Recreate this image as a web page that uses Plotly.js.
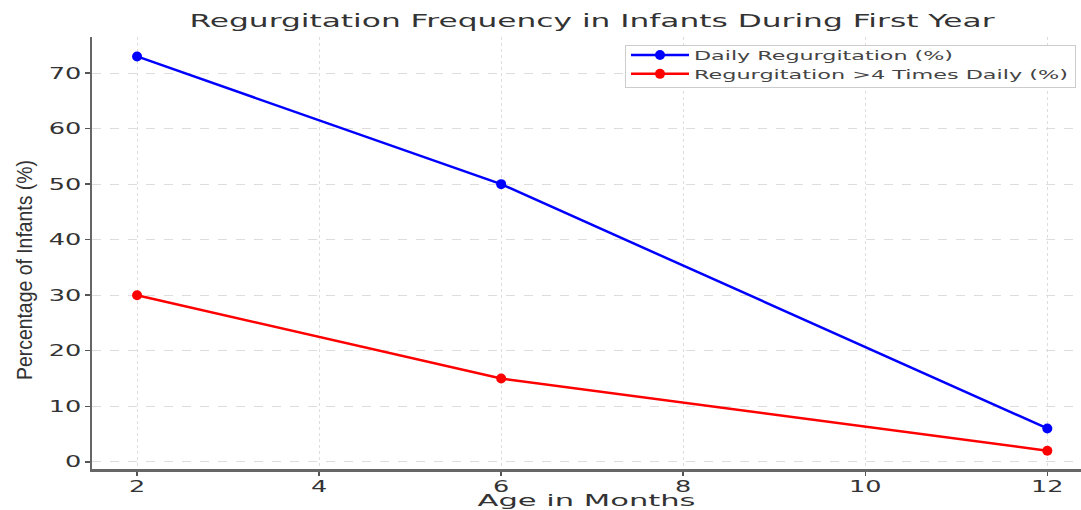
<!DOCTYPE html>
<html>
<head>
<meta charset="utf-8">
<script src="https://cdn.plot.ly/plotly-3.0.1.min.js"></script>
<style>
html,body{margin:0;padding:0;background:#fff;}
#chart{width:1081px;height:510px;}
</style>
</head>
<body>
<div id="chart"></div>
<script>
const ageMonths = [2, 6, 12];
const dailyRegurgitation = [73, 50, 6];
const regurgitationOver4 = [30, 15, 2];
const seriesNames = ["Daily Regurgitation (%)", "Regurgitation >4 Times Daily (%)"];
const xTicks = [2, 4, 6, 8, 10, 12];
const yTicks = [0, 10, 20, 30, 40, 50, 60, 70];

const font = "DejaVu Sans, sans-serif";
const traces = [
  {x: ageMonths, y: dailyRegurgitation, name: seriesNames[0], type: "scatter", mode: "lines+markers",
   line: {color: "#0000ff", width: 2.5}, marker: {color: "#0000ff", size: 10}},
  {x: ageMonths, y: regurgitationOver4, name: seriesNames[1], type: "scatter", mode: "lines+markers",
   line: {color: "#ff0000", width: 2.5}, marker: {color: "#ff0000", size: 10}}
];
const layout = {
  width: 1081, height: 510,
  margin: {l: 92, r: 0, t: 37, b: 41},
  paper_bgcolor: "#fff", plot_bgcolor: "#fff",
  font: {family: font, color: "#333", size: 16},
  title: {text: "Regurgitation Frequency in Infants During First Year", x: 592/1081, xref: "container", xanchor: "center",
          y: 1 - 21/510, yref: "container", yanchor: "middle", font: {family: font, size: 18, color: "#333"}},
  showlegend: true,
  legend: {x: (625-92)/989, y: (469-45)/432, xanchor: "left", yanchor: "top", bgcolor: "#fff", bordercolor: "#ccc", borderwidth: 1,
           font: {family: font, size: 13, color: "#444"}, tracegroupgap: 0, itemwidth: 58},
  xaxis: {range: [1.505, 12.37], tickvals: xTicks, ticks: "outside", ticklen: 4, tickwidth: 1.5, tickcolor: "#555",
          showline: true, linecolor: "#666", linewidth: 2.5, zeroline: false,
          showgrid: true, gridcolor: "#ddd", griddash: "dot", gridwidth: 1,
          tickfont: {size: 15, color: "#333"},
          title: {text: "Age in Months", font: {size: 16, color: "#333"}, standoff: 12}},
  yaxis: {range: [-1.3, 76.5], tickvals: yTicks, ticks: "outside", ticklen: 5, tickwidth: 1.5, tickcolor: "#555",
          showline: true, linecolor: "#666", linewidth: 2.5, zeroline: false,
          showgrid: true, gridcolor: "#ddd", griddash: "dash", gridwidth: 1,
          tickfont: {size: 16, color: "#333"},
          title: {text: "Percentage of Infants (%)", font: {family: "Liberation Sans Narrow, Liberation Sans, sans-serif", size: 22, color: "#333"}, standoff: 22}}
};
function stretch(el, target) {
  el.setAttribute("textLength", target);
  el.setAttribute("lengthAdjust", "spacingAndGlyphs");
}
Plotly.newPlot("chart", traces, layout, {displayModeBar: false, staticPlot: true}).then(function (gd) {
  gd.querySelectorAll(".xtick text").forEach(function (t) {
    stretch(t, t.getComputedTextLength() * 1.7);
    t.setAttribute("transform", "translate(0,-2) " + (t.getAttribute("transform") || ""));
  });
  gd.querySelectorAll(".ytick text").forEach(function (t) {
    stretch(t, t.getComputedTextLength() * 1.6);
  });
  const title = gd.querySelector(".gtitle");
  if (title) stretch(title, 805);
  const legTargets = [259, 374];
  gd.querySelectorAll(".legendtext").forEach(function (t, i) { stretch(t, legTargets[i]); });
  const legW = 1075 - 625, legH = 42;
  gd.querySelectorAll(".legend rect.bg").forEach(function (r) { r.setAttribute("width", legW); r.setAttribute("height", legH); });
  document.querySelectorAll('clipPath[id^="legend"] rect').forEach(function (r) { r.setAttribute("width", legW); r.setAttribute("height", legH); });
  gd.querySelectorAll(".legend .traces").forEach(function (g, i) {
    g.setAttribute("transform", (g.getAttribute("transform") || "") + " translate(0," + (-6 - i) + ")");
  });
  const xt = gd.querySelector(".xtitle");
  if (xt) stretch(xt, 218);
  const yt = gd.querySelector(".ytitle");
  if (yt) {
    stretch(yt, 220);
    yt.setAttribute("transform", "translate(0,17) " + (yt.getAttribute("transform") || ""));
  }
});
</script>
</body>
</html>
